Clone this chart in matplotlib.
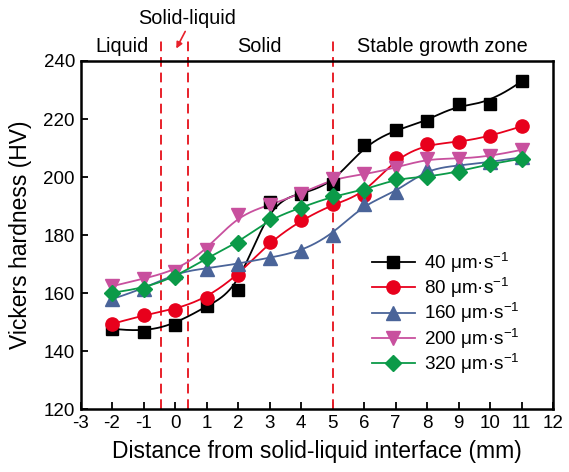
import numpy as np
import matplotlib
matplotlib.use("Agg")
import matplotlib.pyplot as plt

plt.rcParams['font.family'] = ['Liberation Sans', 'DejaVu Sans']
plt.rcParams['mathtext.fontset'] = 'custom'
plt.rcParams['mathtext.rm'] = 'Liberation Sans'
plt.rcParams['mathtext.it'] = 'Liberation Sans:italic'
plt.rcParams['axes.unicode_minus'] = False

# ---------------- data ----------------
distance = [-2, -1, 0, 1, 2, 3, 4, 5, 6, 7, 8, 9, 10, 11]
hv_40 = [147.8, 146.5, 149.2, 155.6, 161.0, 191.3, 194.3, 197.6, 210.9, 216.3, 219.3, 225.3, 225.3, 233.0]
hv_80 = [149.4, 152.5, 154.3, 158.4, 166.2, 177.6, 185.1, 190.6, 194.0, 206.5, 211.3, 212.0, 214.0, 217.5]
hv_160 = [158.0, 161.4, 167.2, 168.5, 170.2, 172.2, 174.4, 180.2, 190.7, 194.7, 202.8, 204.0, 205.2, 206.8]
hv_200 = [162.4, 165.0, 167.4, 175.0, 186.8, 190.4, 194.3, 199.4, 200.9, 203.2, 206.3, 206.3, 207.1, 209.4]
hv_320 = [160.2, 161.6, 165.5, 172.1, 177.4, 185.5, 189.5, 193.4, 195.5, 199.4, 200.1, 201.8, 204.6, 206.3]
series_labels = ['40 μm·s$^{-1}$', '80 μm·s$^{-1}$', '160 μm·s$^{-1}$',
                 '200 μm·s$^{-1}$', '320 μm·s$^{-1}$']
zone_labels = ['Liquid', 'Solid', 'Stable growth zone']
interface_label = 'Solid-liquid'
boundaries = [-0.45, 0.42, 5]
x_ticks = list(range(-3, 13))
y_ticks = list(range(120, 241, 20))


def bspline(x, y, n=400, k=3):
    P = np.column_stack([x, y]).astype(float)
    m = len(P)
    knots = np.concatenate([np.zeros(k), np.linspace(0, 1, m - k + 1), np.ones(k)])
    t = np.linspace(0, 1, n)
    t[-1] -= 1e-9
    N = np.zeros((n, len(knots) - 1))
    for i in range(len(knots) - 1):
        N[:, i] = ((knots[i] <= t) & (t < knots[i + 1])).astype(float)
    for d in range(1, k + 1):
        Nn = np.zeros((n, len(knots) - 1 - d))
        for i in range(len(knots) - 1 - d):
            a = knots[i + d] - knots[i]
            b = knots[i + d + 1] - knots[i + 1]
            term = np.zeros(n)
            if a > 0:
                term += (t - knots[i]) / a * N[:, i]
            if b > 0:
                term += (knots[i + d + 1] - t) / b * N[:, i + 1]
            Nn[:, i] = term
        N = Nn
    C = N @ P
    return C[:, 0], C[:, 1]


fig = plt.figure(figsize=(5.69, 4.72), dpi=100)
ax = fig.add_axes([0.1415, 0.1328, 0.8304, 0.738])

colors = ['#000000', '#e8001c', '#4a6499', '#c8509e', '#0b9a48']
markers = ['s', 'o', '^', 'v', 'D']
msizes = [8.5, 9.5, 9.5, 9.5, 8]
all_series = [hv_40, hv_80, hv_160, hv_200, hv_320]

for yv, c, mk, ms, lab in zip(all_series, colors, markers, msizes, series_labels):
    sx, sy = bspline(distance, yv)
    ax.plot(sx, sy, color=c, lw=1.3, zorder=3)
    ax.plot(distance, yv, linestyle='none', marker=mk, ms=ms, color=c,
            markeredgecolor=c, zorder=4)
    ax.plot([], [], color=c, lw=1.3, marker=mk, ms=ms, label=lab)

for b in boundaries:
    ax.vlines(b, 120, 248.2, colors='#e8202a', linestyles=(0, (5, 3)),
              lw=1.4, clip_on=False, zorder=2)

ax.set_xlim(-3, 12)
ax.set_ylim(120, 240)
ax.set_xticks(x_ticks)
ax.set_yticks(y_ticks)
ax.tick_params(direction='in', length=5, width=1.3, labelsize=13.5, pad=4)
for s in ax.spines.values():
    s.set_linewidth(1.8)

ax.set_xlabel('Distance from solid-liquid interface (mm)', fontsize=16.5, labelpad=6)
ax.set_ylabel('Vickers hardness (HV)', fontsize=16.5, labelpad=8)

leg = ax.legend(loc='upper left', bbox_to_anchor=(0.6, 0.477), frameon=False,
                fontsize=13.6, handlelength=2.3, labelspacing=0.06,
                handletextpad=0.45, borderaxespad=0, numpoints=1)

# zone labels above the axes
fig.text(121.5 / 569, 1 - 46.5 / 472, zone_labels[0], ha='center', va='center', fontsize=14.3)
fig.text(259.5 / 569, 1 - 46.5 / 472, zone_labels[1], ha='center', va='center', fontsize=14.3)
fig.text(442 / 569, 1 - 46.5 / 472, zone_labels[2], ha='center', va='center', fontsize=14.3)
fig.text(187 / 569, 1 - 19 / 472, interface_label, ha='center', va='center', fontsize=14.3)
fig.add_artist(matplotlib.patches.FancyArrowPatch(
    (186.5 / 569, 1 - 29 / 472), (175 / 569, 1 - 51 / 472),
    transform=fig.transFigure, arrowstyle='-|>', mutation_scale=9,
    color='#e8202a', lw=1.2))

fig.savefig('out.png', dpi=100)
